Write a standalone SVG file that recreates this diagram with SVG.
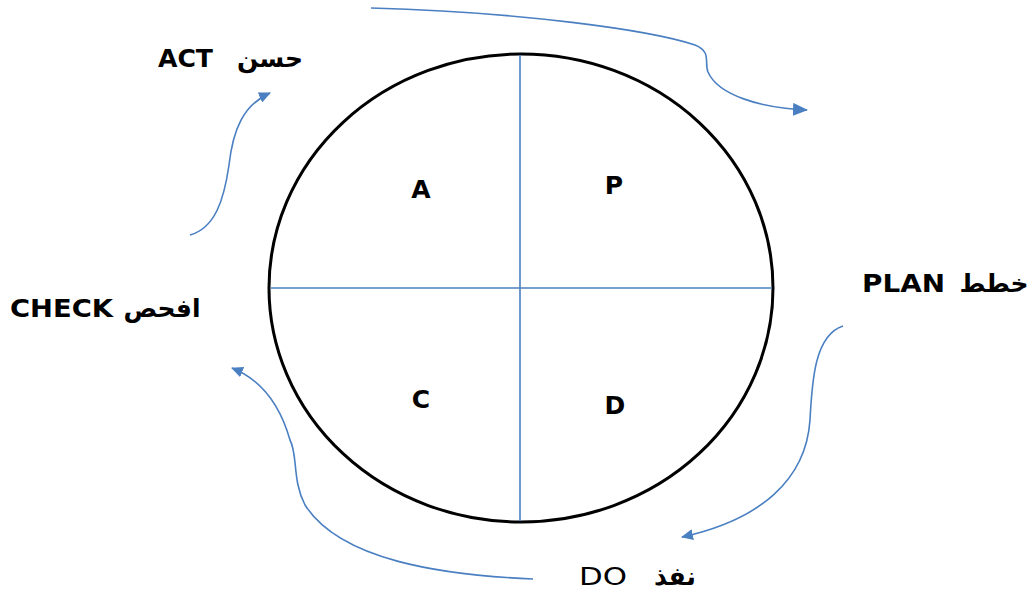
<svg xmlns="http://www.w3.org/2000/svg" width="1029" height="595" viewBox="0 0 1029 595">
<style>
.lat{font-family:"DejaVu Sans","Liberation Sans",sans-serif;font-weight:bold;fill:#000}
.ar{font-family:"DejaVu Sans","Noto Sans",sans-serif;font-weight:bold;fill:#000}
.q{font-family:"DejaVu Sans","Liberation Sans",sans-serif;font-weight:bold;font-size:25px;text-anchor:middle;fill:#000}
.conn{fill:none;stroke:#4a7fc1;stroke-width:1.6}
.div{stroke:#4a7fc1;stroke-width:1.6}
</style>
<defs>
<marker id="ah" viewBox="0 0 12 11" refX="11" refY="5.5" markerWidth="12" markerHeight="11" markerUnits="userSpaceOnUse" orient="auto">
<path d="M0,0 L12,5.5 L0,11 z" fill="#4a7fc1"/>
</marker>
<marker id="ahL" viewBox="0 0 15 13" refX="14" refY="6.5" markerWidth="15" markerHeight="13" markerUnits="userSpaceOnUse" orient="auto">
<path d="M0,0 L15,6.5 L0,13 z" fill="#4a7fc1"/>
</marker>
</defs>
<rect width="1029" height="595" fill="#fff"/>
<g id="circle">
<ellipse cx="521" cy="288" rx="252" ry="234" fill="none" stroke="#000" stroke-width="3"/>
<line class="div" x1="271" y1="288" x2="772" y2="288"/>
<line class="div" x1="520" y1="55" x2="520" y2="521"/>
<text class="q" x="421" y="198">A</text>
<text class="q" x="614" y="194">P</text>
<text class="q" x="421" y="408">C</text>
<text class="q" x="615" y="414">D</text>
</g>
<g id="act">
<text class="lat" x="158" y="67" font-size="25" textLength="55" lengthAdjust="spacingAndGlyphs">ACT</text>
<text class="ar" x="270" y="67" font-size="25" text-anchor="middle">حسن</text>
</g>
<g id="check">
<text class="lat" x="10" y="317" font-size="25" textLength="103" lengthAdjust="spacingAndGlyphs">CHECK</text>
<text class="ar" x="162" y="317" font-size="25" text-anchor="middle">افحص</text>
</g>
<g id="plan">
<text class="lat" x="862" y="292" font-size="25" textLength="83" lengthAdjust="spacingAndGlyphs">PLAN</text>
<text class="ar" x="994" y="292" font-size="25" text-anchor="middle">خطط</text>
</g>
<g id="do">
<text x="579" y="585" font-family="DejaVu Sans, Liberation Sans, sans-serif" font-size="25" textLength="48" lengthAdjust="spacingAndGlyphs">DO</text>
<text class="ar" x="675" y="585" font-size="25" text-anchor="middle">نفذ</text>
</g>
<g id="connectors">
<path class="conn" marker-end="url(#ahL)" d="M371,8 C520,12 650,30 695,45 C712,52 704,62 708,72 C718,95 760,108 807,110"/>
<path class="conn" marker-end="url(#ah)" d="M843,326 C815,335 812,380 810,420 C806,480 760,520 682,537"/>
<path class="conn" marker-end="url(#ah)" d="M533,579 C440,575 340,560 305,505 C292,480 298,455 290,440 C280,405 262,380 232,368"/>
<path class="conn" marker-end="url(#ah)" d="M190,235 C215,228 224,200 229,165 C233,130 243,105 270,93"/>
</g>
</svg>
